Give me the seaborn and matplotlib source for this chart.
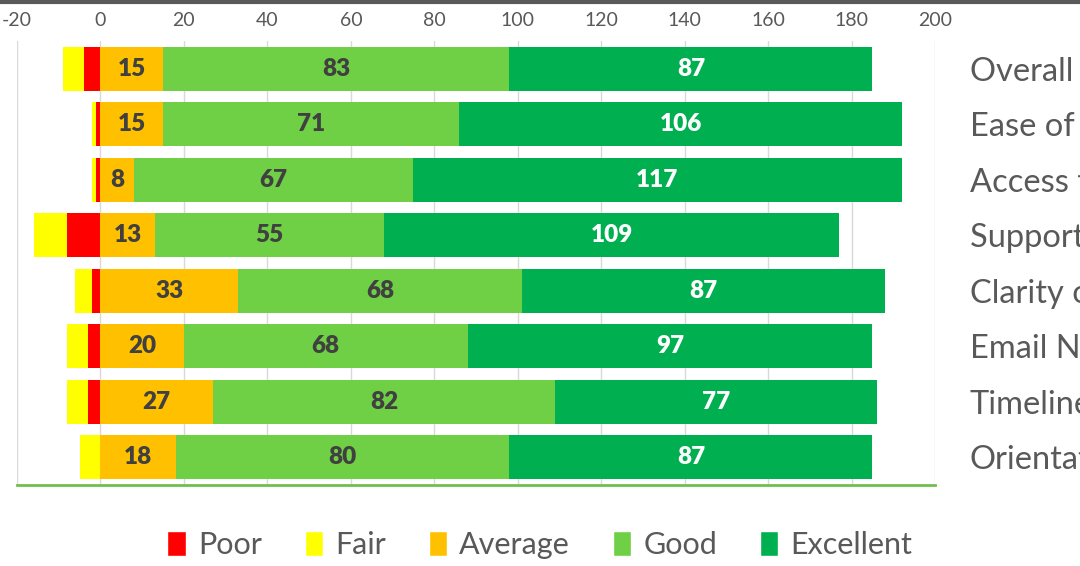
import pandas as pd
import matplotlib.pyplot as plt
import seaborn as sns
from matplotlib.patches import Patch
from matplotlib.lines import Line2D

# survey data
categories = ["Overall Satisfaction", "Ease of Use", "Access to Resources", "Support from Staff",
              "Clarity of Instructions", "Email Notifications", "Timeliness", "Orientation"]
poor = [4, 1, 1, 8, 2, 3, 3, 0]
fair = [5, 1, 1, 8, 4, 5, 5, 5]
average = [15, 15, 8, 13, 33, 20, 27, 18]
good = [83, 71, 67, 55, 68, 68, 82, 80]
excellent = [87, 106, 117, 109, 87, 97, 77, 87]
x_ticks = list(range(-20, 201, 20))

colours = {
    "Poor": "#FF0000",
    "Fair": "#FFFF00",
    "Average": "#FFC000",
    "Good": "#6FCF45",
    "Excellent": "#00B050",
}

df = pd.DataFrame({"Category": categories, "Poor": poor, "Fair": fair,
                   "Average": average, "Good": good, "Excellent": excellent})
# cumulative ends for the overlaid (stacked) bars
df["neg_fair"] = -(df["Poor"] + df["Fair"])
df["neg_poor"] = -df["Poor"]
df["cum_avg"] = df["Average"]
df["cum_good"] = df["Average"] + df["Good"]
df["cum_exc"] = df["cum_good"] + df["Excellent"]

sns.set_style("white")
plt.rcParams["font.family"] = ["Lato", "DejaVu Sans"]
plt.rcParams["axes.unicode_minus"] = False

fig = plt.figure(figsize=(10.8, 5.66), dpi=100)
ax = fig.add_axes([17 / 1080, 1 - 485 / 566, 918 / 1080, 444 / 566])

# draw longest first so shorter segments sit on top
for col, name in [("cum_exc", "Excellent"), ("cum_good", "Good"), ("cum_avg", "Average"),
                  ("neg_fair", "Fair"), ("neg_poor", "Poor")]:
    sns.barplot(data=df, x=col, y="Category", color=colours[name], orient="h",
                width=0.8, linewidth=0, saturation=1, ax=ax, zorder=3)

# segment labels
lbl = dict(ha="center", va="center", fontsize=17.5, fontweight="heavy", zorder=5)
for i, row in df.iterrows():
    ax.text(row["Average"] / 2, i, str(row["Average"]), color="#404040", **lbl)
    ax.text(row["cum_avg"] + row["Good"] / 2, i, str(row["Good"]), color="#404040", **lbl)
    ax.text(row["cum_good"] + row["Excellent"] / 2, i, str(row["Excellent"]), color="white", **lbl)

ax.set_xlim(-20, 200)
ax.set_ylim(len(categories) - 0.5, -0.5)
ax.set_xticks(x_ticks)
ax.xaxis.tick_top()
ax.yaxis.tick_right()
ax.tick_params(axis="x", length=0, pad=9, labelsize=14, labelcolor="#595959")
ax.tick_params(axis="y", length=0, pad=25, labelsize=23.5, labelcolor="#595959")
ax.set_xlabel("")
ax.set_ylabel("")
ax.grid(axis="x", color="#D9D9D9", linewidth=1, zorder=0)
ax.set_axisbelow(True)
for side in ["top", "left", "right"]:
    ax.spines[side].set_visible(False)
ax.spines["bottom"].set_color("#70C050")
ax.spines["bottom"].set_linewidth(2)

# legend
handles = [Patch(facecolor=colours[k], label=k) for k in ["Poor", "Fair", "Average", "Good", "Excellent"]]
fig.legend(handles=handles, loc="center", bbox_to_anchor=(0.5, 1 - 545 / 566), ncol=5,
           frameon=False, fontsize=22, handlelength=0.6, handleheight=0.9,
           handletextpad=0.4, columnspacing=1.4, labelcolor="#595959")

# dark border along the top
fig.add_artist(Line2D([0, 1], [0.997, 0.997], color="#595959", linewidth=3,
                      transform=fig.transFigure))

fig.savefig("out.png", dpi=100)
